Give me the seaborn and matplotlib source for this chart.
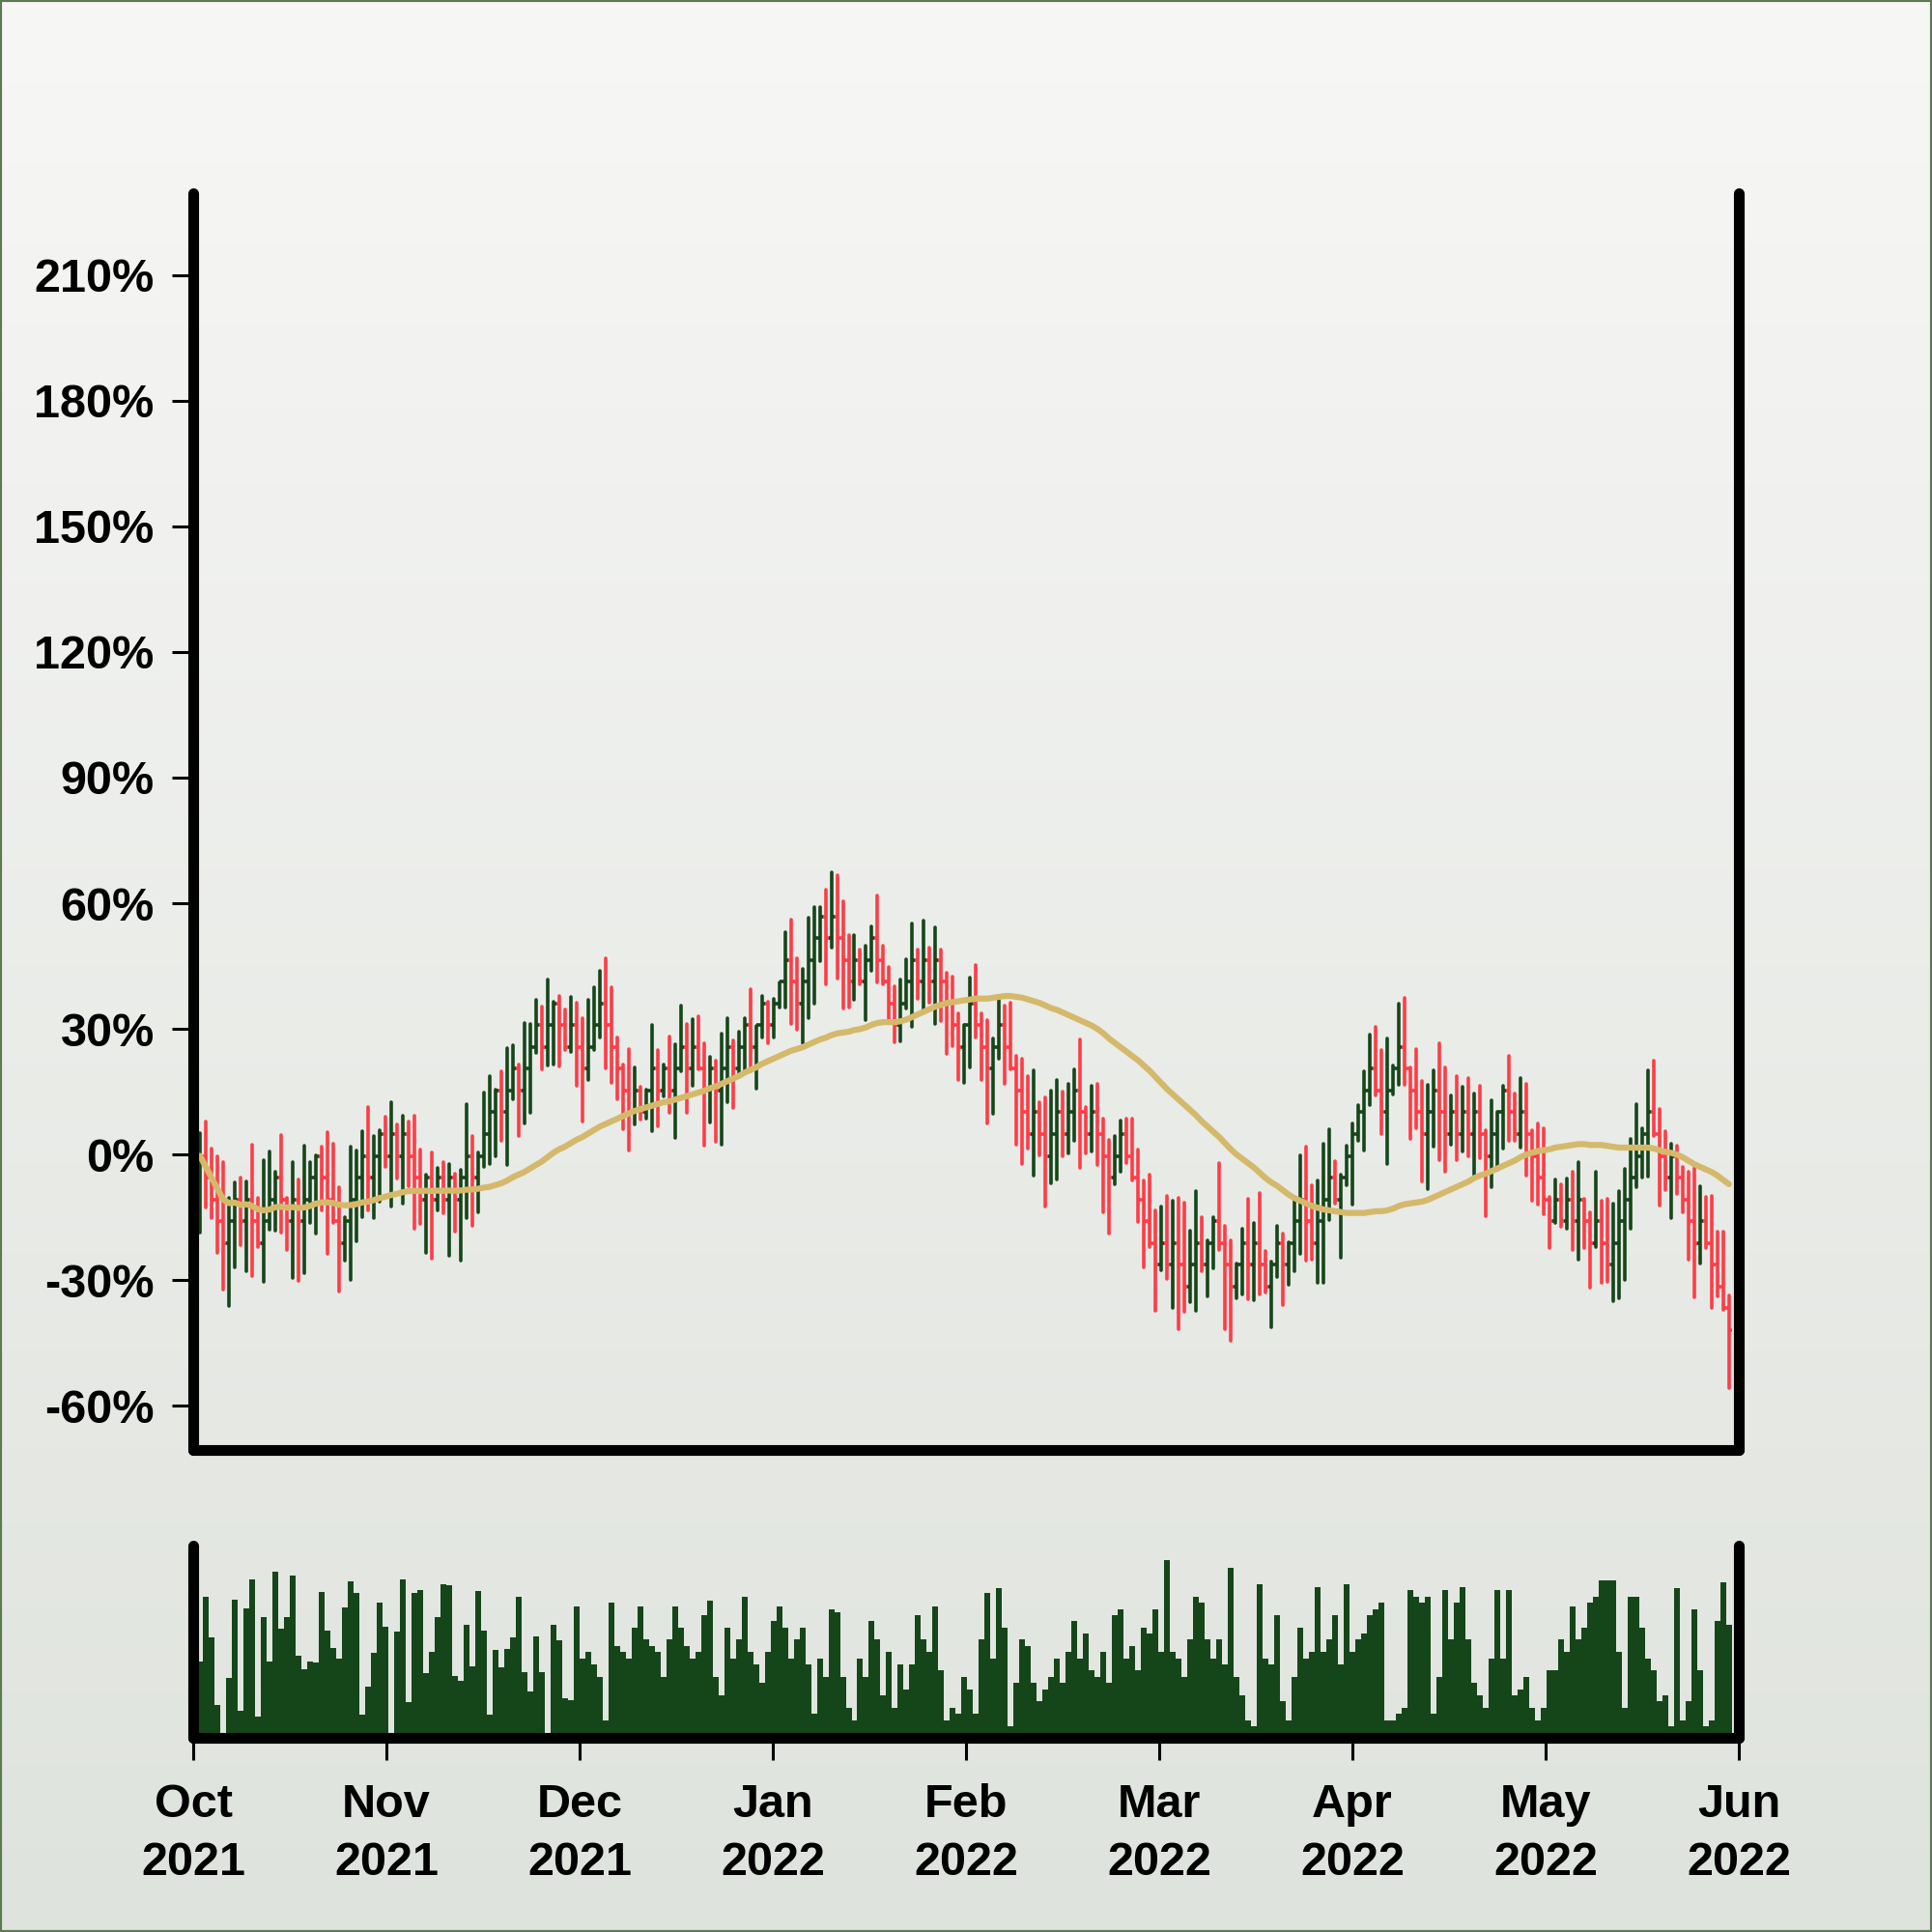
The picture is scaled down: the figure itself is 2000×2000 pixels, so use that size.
import numpy as np
import pandas as pd
import seaborn as sns
import matplotlib.pyplot as plt
from matplotlib.colors import LinearSegmentedColormap
from matplotlib.patches import Rectangle

# daily bars, values in percent
high = [5.1, 8.0, 1.4, -0.5, -1.8, -10.3, -6.7, -5.4, -6.5, 2.3,
        -10.3, -1.3, 0.8, -4.1, 4.6, -10.4, -1.8, -6.0, 2.2, -1.7,
        -0.1, 1.8, 5.4, 2.7, -7.7, -14.9, 1.9, 0.9, 5.7, 11.3,
        4.5, 5.8, 9.0, 12.6, 7.3, 9.3, 7.8, 9.2, 1.2, -4.8,
        0.5, -3.2, -1.8, -2.2, -4.5, -3.6, 12.1, 4.4, 0.5, 14.8,
        18.7, 15.4, 19.8, 25.4, 26.1, 21.4, 31.5, 31.3, 36.9, 35.3,
        41.7, 36.6, 37.9, 34.6, 37.6, 36.2, 32.6, 37.0, 39.9, 43.8,
        46.9, 39.9, 28.0, 21.5, 25.1, 20.9, 16.3, 15.5, 30.9, 25.0,
        21.5, 28.2, 26.3, 35.6, 31.1, 32.4, 33.0, 26.5, 23.4, 22.5,
        29.0, 32.5, 27.3, 29.4, 32.5, 39.4, 30.7, 37.9, 36.5, 37.1,
        41.2, 53.0, 56.0, 46.8, 44.3, 56.6, 59.0, 59.0, 63.2, 67.4,
        66.6, 60.5, 52.4, 52.5, 48.9, 49.8, 54.4, 61.8, 49.8, 44.9,
        40.2, 41.9, 46.6, 55.2, 49.0, 55.8, 49.4, 54.2, 48.9, 43.5,
        42.5, 33.8, 30.9, 42.2, 45.3, 33.8, 32.0, 27.8, 37.8, 35.6,
        36.3, 23.6, 22.8, 18.7, 20.1, 12.4, 13.7, 15.2, 17.8, 15.0,
        16.9, 20.4, 27.6, 11.3, 16.5, 16.9, 8.7, 3.5, 4.4, 8.1,
        8.5, 8.6, 1.3, -6.1, -4.8, -13.2, -12.4, -9.8, -10.9, -10.4,
        -11.5, -18.2, -8.7, -15.0, -20.4, -15.0, -1.9, -17.0, -20.5, -26.1,
        -17.8, -10.6, -16.3, -9.2, -22.9, -25.6, -17.0, -18.8, -20.9, -11.0,
        -0.2, 1.9, -7.4, -6.1, 2.5, 6.1, -1.6, -4.8, 2.2, 7.4,
        11.9, 19.8, 28.7, 30.5, 25.0, 27.8, 21.3, 36.1, 37.4, 20.9,
        25.1, 17.5, 16.7, 20.2, 26.5, 20.7, 14.1, 18.8, 16.1, 18.3,
        14.6, 16.4, 5.8, 12.9, 10.1, 16.4, 23.6, 14.6, 18.2, 16.9,
        5.8, 7.5, 6.3, -10.1, -5.9, -7.1, -5.6, -4.1, -1.8, -10.6,
        -13.8, -4.0, -10.9, -10.5, -11.8, -8.7, -3.5, 3.7, 12.1, 6.4,
        20.1, 22.4, 10.9, 5.5, 2.7, 2.1, -2.9, -4.2, -3.1, -7.5,
        -10.1, -9.8, -18.4, -18.4, -33.6]

low = [-18.7, -12.6, -15.1, -23.5, -32.3, -36.2, -26.9, -21.6, -27.9, -29.0,
       -22.0, -30.4, -17.9, -18.1, -18.6, -22.8, -29.4, -30.2, -28.4, -16.4,
       -18.9, -13.3, -23.8, -16.4, -32.6, -25.2, -29.9, -20.8, -15.0, -13.3,
       -15.1, -11.2, -3.0, -12.4, -5.7, -11.8, -7.6, -17.8, -16.6, -23.5,
       -24.9, -13.3, -14.0, -24.1, -18.4, -25.4, -15.2, -17.0, -13.7, -2.9,
       -2.2, -0.4, 3.4, -2.5, 13.3, 4.5, 7.5, 9.9, 24.2, 20.4,
       21.3, 21.5, 21.0, 25.0, 24.6, 16.4, 7.8, 17.8, 25.0, 28.0,
       20.5, 17.1, 13.3, 6.1, 0.9, 7.1, 8.3, 8.7, 5.6, 6.7,
       13.8, 9.9, 3.9, 20.0, 9.9, 16.4, 20.4, 2.2, 7.7, 3.1,
       2.3, 12.4, 11.1, 19.0, 19.4, 20.0, 15.7, 28.0, 26.5, 28.0,
       35.1, 35.2, 31.1, 29.8, 26.5, 32.5, 36.0, 46.2, 40.7, 49.5,
       42.0, 34.9, 35.2, 36.9, 40.6, 32.1, 43.9, 41.2, 40.7, 31.9,
       26.7, 27.0, 34.9, 30.5, 37.1, 34.2, 36.2, 31.1, 31.9, 24.0,
       25.9, 17.9, 17.1, 20.7, 27.9, 17.8, 7.5, 9.8, 22.9, 16.8,
       20.4, 2.4, -2.3, 1.4, -5.0, -0.2, -12.3, -6.9, -5.9, -0.5,
       0.2, 3.2, -3.1, 0.2, 0.8, -2.5, -13.7, -18.8, -7.2, -4.2,
       -1.9, -6.1, -16.1, -27.0, -22.0, -37.4, -27.5, -29.8, -36.5, -41.6,
       -37.6, -35.3, -37.3, -27.8, -33.9, -27.1, -22.7, -41.7, -44.5, -34.2,
       -33.4, -34.6, -34.8, -33.3, -32.8, -41.1, -29.3, -35.9, -31.0, -27.9,
       -23.8, -25.3, -25.0, -30.6, -30.7, -15.7, -11.7, -24.6, -7.3, -11.9,
       3.2, 1.0, 11.9, 14.1, 5.0, -2.3, 14.4, 16.7, 16.7, 3.7,
       6.2, -6.5, -8.2, 1.9, -1.4, -4.2, 2.3, -1.3, 0.8, -0.4,
       -4.8, -0.8, -14.6, -7.8, -3.7, 1.5, 3.2, 3.3, 1.7, -5.0,
       -10.9, -11.9, -14.2, -22.3, -16.3, -17.3, -17.8, -22.8, -25.1, -22.4,
       -31.7, -22.0, -30.5, -30.3, -35.0, -34.2, -30.0, -17.7, -7.7, -5.5,
       -5.2, 4.4, -12.1, -8.5, -15.2, -9.4, -13.8, -25.0, -34.0, -25.9,
       -22.3, -36.7, -33.8, -37.1, -55.7]

close = [-0.3, -5.5, -10.7, -15.9, -21.1, -15.9, -10.7, -15.9, -10.7, -15.9,
         -21.1, -15.9, -10.7, -5.5, -10.7, -15.9, -10.7, -15.9, -10.7, -5.5,
         -0.3, -5.5, -10.7, -15.9, -21.1, -15.9, -10.7, -5.5, -0.3, -5.5,
         -0.3, 4.9, -0.3, 4.9, -0.3, 4.9, -0.3, -5.5, -10.7, -5.5,
         -10.7, -5.5, -10.7, -5.5, -10.7, -5.5, -0.3, -5.5, -0.3, 4.9,
         10.1, 15.3, 10.1, 15.3, 20.5, 15.3, 20.5, 25.7, 30.9, 25.7,
         30.9, 36.1, 30.9, 25.7, 30.9, 25.7, 20.5, 25.7, 30.9, 36.1,
         30.9, 25.7, 20.5, 15.3, 10.1, 15.3, 10.1, 15.3, 20.5, 15.3,
         20.5, 15.3, 20.5, 25.7, 20.5, 25.7, 20.5, 15.3, 20.5, 15.3,
         20.5, 25.7, 20.5, 25.7, 30.9, 25.7, 30.9, 36.1, 30.9, 36.1,
         41.3, 46.5, 41.3, 36.1, 41.3, 46.5, 51.7, 56.9, 51.7, 56.9,
         51.7, 46.5, 41.3, 46.5, 41.3, 46.5, 51.7, 46.5, 41.3, 36.1,
         30.9, 36.1, 41.3, 46.5, 41.3, 46.5, 41.3, 46.5, 41.3, 36.1,
         30.9, 25.7, 30.9, 36.1, 30.9, 25.7, 20.5, 25.7, 30.9, 25.7,
         20.5, 15.3, 10.1, 4.9, 10.1, 4.9, -0.3, 4.9, 10.1, 4.9,
         10.1, 15.3, 10.1, 4.9, 10.1, 4.9, -0.3, -5.5, -0.3, 4.9,
         -0.3, -5.5, -10.7, -15.9, -21.1, -26.3, -21.1, -26.3, -21.1, -26.3,
         -31.5, -26.3, -21.1, -26.3, -21.1, -15.9, -21.1, -26.3, -31.5, -26.3,
         -21.1, -26.3, -21.1, -26.3, -31.5, -26.3, -21.1, -26.3, -21.1, -15.9,
         -10.7, -15.9, -21.1, -15.9, -10.7, -5.5, -10.7, -5.5, -0.3, 4.9,
         10.1, 15.3, 20.5, 15.3, 10.1, 15.3, 20.5, 25.7, 20.5, 15.3,
         10.1, 4.9, 10.1, 15.3, 10.1, 4.9, 10.1, 4.9, 10.1, 4.9,
         10.1, 4.9, -0.3, 4.9, 10.1, 15.3, 10.1, 4.9, 10.1, 4.9,
         -0.3, -5.5, -10.7, -15.9, -10.7, -15.9, -10.7, -15.9, -10.7, -15.9,
         -21.1, -15.9, -21.1, -26.3, -21.1, -15.9, -10.7, -5.5, -0.3, 4.9,
         10.1, 4.9, -0.3, -5.5, -0.3, -5.5, -10.7, -15.9, -21.1, -15.9,
         -21.1, -26.3, -31.5, -36.7, -41.9]
first_open = -5.5

volume = [79, 146, 104, 34, 0, 62, 143, 28, 134, 164,
          22, 125, 79, 172, 113, 125, 168, 85, 71, 79,
          78, 151, 111, 93, 82, 135, 162, 150, 24, 53,
          88, 140, 115, 0, 110, 164, 37, 150, 153, 67,
          89, 125, 159, 158, 64, 59, 117, 74, 152, 111,
          24, 91, 73, 92, 104, 146, 68, 48, 105, 68,
          0, 117, 101, 41, 39, 136, 82, 89, 76, 63,
          18, 140, 95, 89, 82, 114, 136, 102, 95, 89,
          63, 102, 136, 114, 95, 82, 89, 127, 142, 63,
          44, 114, 82, 102, 146, 89, 76, 57, 89, 121,
          136, 114, 82, 102, 114, 76, 25, 82, 63, 133,
          130, 63, 31, 18, 82, 63, 121, 102, 44, 89,
          31, 76, 50, 76, 127, 102, 89, 136, 70, 18,
          31, 25, 63, 50, 25, 102, 150, 82, 155, 114,
          12, 57, 102, 95, 57, 38, 50, 63, 82, 57,
          89, 121, 82, 108, 70, 63, 89, 57, 127, 133,
          82, 95, 70, 114, 108, 133, 89, 184, 89, 82,
          63, 102, 146, 140, 102, 82, 102, 76, 176, 63,
          44, 18, 12, 159, 82, 76, 127, 38, 18, 63,
          114, 82, 89, 156, 89, 102, 127, 76, 159, 89,
          102, 108, 127, 133, 140, 18, 18, 25, 31, 153,
          146, 140, 146, 25, 63, 153, 102, 140, 156, 102,
          57, 44, 31, 82, 153, 82, 153, 44, 50, 63,
          31, 18, 31, 70, 70, 102, 89, 136, 102, 114,
          140, 146, 163, 163, 163, 89, 31, 146, 146, 114,
          82, 70, 38, 44, 12, 155, 18, 38, 133, 70,
          12, 18, 121, 161, 117]

months = ['Oct\n2021', 'Nov\n2021', 'Dec\n2021', 'Jan\n2022', 'Feb\n2022',
          'Mar\n2022', 'Apr\n2022', 'May\n2022', 'Jun\n2022']
y_ticks = [-60, -30, 0, 30, 60, 90, 120, 150, 180, 210]

GREEN = '#15461a'
RED = '#ff3c47'
GOLD = '#d5b96b'

sns.set_theme(style='ticks')
plt.rcParams['font.family'] = ['Liberation Sans', 'DejaVu Sans']
plt.rcParams['font.weight'] = 'bold'
plt.rcParams['text.color'] = 'black'
plt.rcParams['xtick.color'] = 'black'
plt.rcParams['ytick.color'] = 'black'

df = pd.DataFrame({'high': high, 'low': low, 'close': close, 'volume': volume})
df['open'] = df['close'].shift(1).fillna(first_open)
df['ma'] = df['close'].rolling(50, min_periods=1).mean()
df['x'] = np.arange(len(df))
cols = np.where(df['close'] >= df['open'], GREEN, RED)

fig = plt.figure(figsize=(20, 20), dpi=100)

# gradient background
bg = fig.add_axes([0, 0, 1, 1], zorder=-10)
cmap = LinearSegmentedColormap.from_list('bg', ['#f7f7f6', '#dfe3dd'])
bg.imshow(np.linspace(0, 1, 256)[:, None], aspect='auto', cmap=cmap,
          extent=[0, 1, 0, 1], origin='upper')
bg.axis('off')
fig.patches.append(Rectangle((0, 0), 1, 1, transform=fig.transFigure, fill=False,
                             edgecolor='#5b7a52', linewidth=3))

xlim = (-1.17, 265.7)

# price panel
ax = fig.add_axes([0.1, 0.2495, 0.8, 0.6505])
ax.patch.set_alpha(0)
ax.vlines(df['x'], df['low'], df['high'], colors=cols, linewidth=2.6, capstyle='round')
ax.hlines(df['open'], df['x'] - 0.5, df['x'], colors=cols, linewidth=2.6)
ax.hlines(df['close'], df['x'], df['x'] + 0.5, colors=cols, linewidth=2.6)
sns.lineplot(data=df, x='x', y='ma', ax=ax, color=GOLD, linewidth=4.5)
ax.set_xlim(*xlim)
ax.set_ylim(-70.5, 229.5)
ax.set_yticks(y_ticks)
ax.set_yticklabels([f'{v}%' for v in y_ticks])
ax.set_xticks([])
ax.set_xlabel('')
ax.set_ylabel('')
ax.tick_params(axis='y', length=16, width=2.2, pad=13, labelsize=35,
               color='black', labelcolor='black')

# volume panel
vx = fig.add_axes([0.1, 0.1005, 0.8, 0.0995])
vx.patch.set_alpha(0)
vx.bar(df['x'], df['volume'], width=1.0, color=GREEN, linewidth=0)
vx.set_xlim(*xlim)
vx.set_ylim(0, 199)
vx.set_yticks([])
vx.set_xticks(np.linspace(xlim[0], xlim[1], len(months)))
vx.set_xticklabels(months, linespacing=1.45)
vx.tick_params(axis='x', length=16.5, width=2.2, pad=17, labelsize=35,
               color='black', labelcolor='black')

for a in (ax, vx):
    a.spines['top'].set_visible(False)
    for s in ('left', 'right', 'bottom'):
        a.spines[s].set_linewidth(8)
        a.spines[s].set_color('black')
        a.spines[s].set_capstyle('round')
    for lab in a.get_xticklabels() + a.get_yticklabels():
        lab.set_fontweight('bold')

fig.savefig('out.png', dpi=100)
